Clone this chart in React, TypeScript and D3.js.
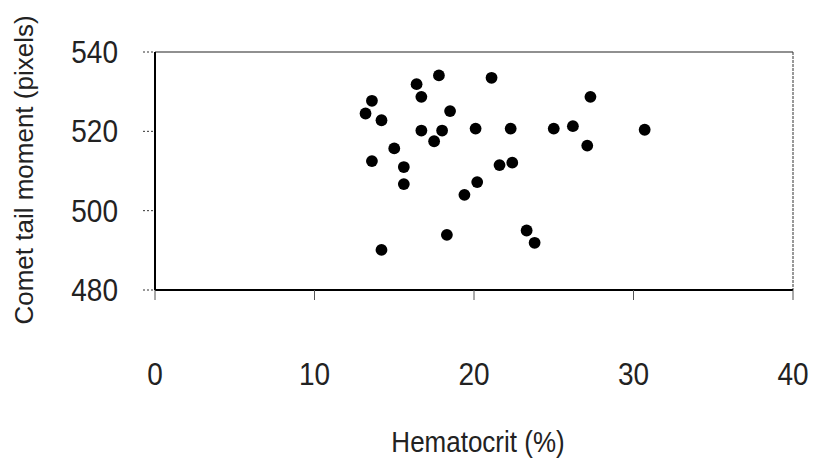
import React from "react";
import * as d3 from "d3";

// Hematocrit (%) vs comet tail moment (pixels), one entry per sample
const hematocrit = [
  13.6, 13.2, 14.2, 16.4, 16.7, 17.8, 18.5, 16.7, 18.0, 17.5,
  15.0, 13.6, 15.6, 15.6, 19.4, 18.3, 14.2, 21.1, 20.1, 22.3,
  25.0, 26.2, 27.3, 27.1, 30.7, 21.6, 22.4, 20.2, 23.3, 23.8,
];
const tailMoment = [
  527.7, 524.5, 522.8, 531.9, 528.7, 534.1, 525.1, 520.2, 520.2, 517.5,
  515.7, 512.5, 511.0, 506.7, 504.0, 493.9, 490.1, 533.5, 520.7, 520.7,
  520.7, 521.3, 528.7, 516.4, 520.4, 511.5, 512.1, 507.2, 495.0, 491.9,
];

const xTicks = [0, 10, 20, 30, 40];
const yTicks = [480, 500, 520, 540];

const W = 814;
const H = 459;
const FONT = "'Liberation Sans', Arial, sans-serif";

export default function App() {
  const x = d3.scaleLinear().domain([0, 40]).range([155, 793]);
  const y = d3.scaleLinear().domain([480, 540]).range([290, 52]);
  const [x0, x1] = x.range();
  const [yb, yt] = y.range();

  return (
    <svg
      width={W}
      height={H}
      style={{ position: "absolute", left: 0, top: 0, background: "#fff" }}
      fontFamily={FONT}
    >
      {/* plot frame */}
      <line x1={x0} x2={x1} y1={yt} y2={yt} stroke="#222" strokeWidth={1.2} />
      <line x1={x1} x2={x1} y1={yt} y2={yb} stroke="#333" strokeWidth={1} strokeDasharray="3,1" />
      <line x1={x0} x2={x1} y1={yb} y2={yb} stroke="#000" strokeWidth={2} />
      <line x1={x0} x2={x0} y1={yt} y2={yb} stroke="#000" strokeWidth={2} />

      {/* y ticks and labels */}
      {yTicks.map((t) => (
        <g key={t}>
          <line
            x1={x0 - 12}
            x2={x0}
            y1={y(t)}
            y2={y(t)}
            stroke="#333"
            strokeWidth={1}
            strokeDasharray="2,2"
          />
          <text
            transform={`translate(118,${y(t)}) scale(1,1.1)`}
            textAnchor="end"
            dominantBaseline="central"
            fontSize={28}
            fill="#222"
          >
            {t}
          </text>
        </g>
      ))}

      {/* x ticks and labels */}
      {xTicks.map((t) => (
        <g key={t}>
          <line
            x1={x(t)}
            x2={x(t)}
            y1={yb}
            y2={yb + 10}
            stroke="#555"
            strokeWidth={1}
          />
          <text
            transform={`translate(${x(t)},385) scale(1,1.1)`}
            textAnchor="middle"
            fontSize={28}
            fill="#222"
          >
            {t}
          </text>
        </g>
      ))}

      {/* axis titles */}
      <text
        transform="translate(478,452) scale(1,1.12)"
        textAnchor="middle"
        fontSize={26}
        fill="#222"
      >
        Hematocrit (%)
      </text>
      <text
        transform="translate(33,170) rotate(-90)"
        textAnchor="middle"
        fontSize={26}
        fill="#222"
      >
        Comet tail moment (pixels)
      </text>

      {/* data points */}
      {hematocrit.map((h, i) => (
        <circle key={i} cx={x(h)} cy={y(tailMoment[i])} r={5.9} fill="#000" />
      ))}
    </svg>
  );
}
